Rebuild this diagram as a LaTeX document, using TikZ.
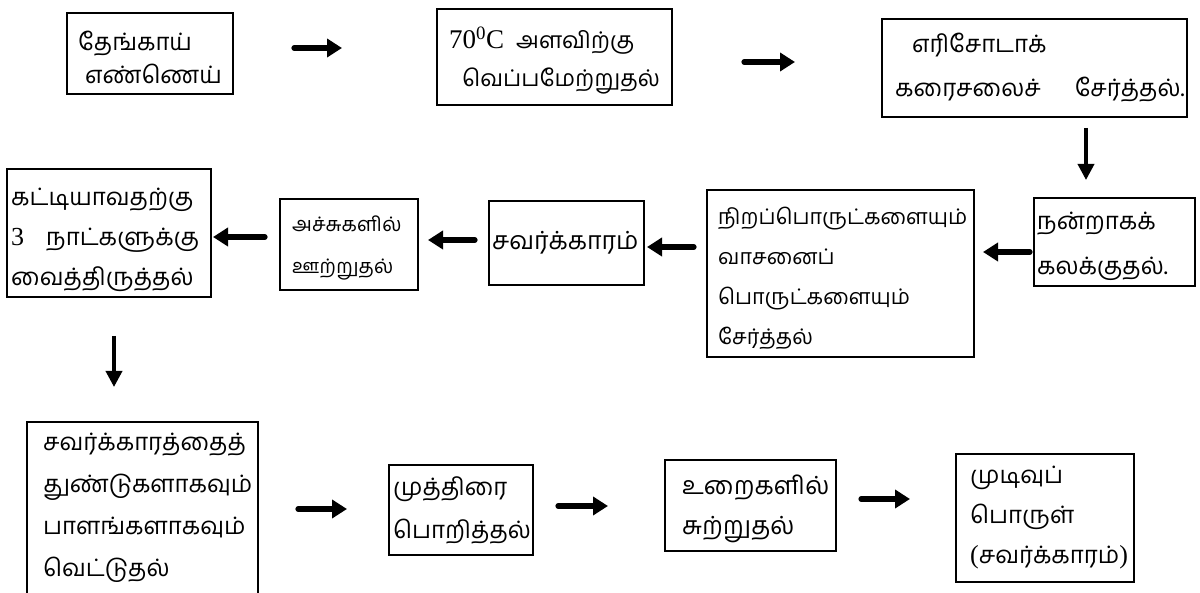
\documentclass[tikz,border=0pt]{standalone}
\usepackage{fontspec}
\setmainfont{Liberation Serif}
\newfontfamily\tamil[Script=Tamil]{Hind Madurai}
\usetikzlibrary{arrows.meta}
\tikzset{
  x=1pt, y=-1pt,
  box/.style={draw, line width=1.8pt, inner sep=0pt},
  txt/.style={anchor=west, align=left, inner sep=0pt, font=\tamil\fontsize{24}{40}\selectfont},
  harr/.style={line width=5.2pt, line cap=round, -{Triangle[length=15pt,width=18pt]}},
  varr/.style={line width=3.6pt, -{Triangle[length=16pt,width=16pt]}},
}
\newcommand{\lat}[1]{{\rmfamily\fontsize{26}{40}\selectfont #1}}
\begin{document}
\begin{tikzpicture}
\useasboundingbox (0,0) rectangle (1200,593);
% boxes
\node[box, minimum width=166pt, minimum height=81pt] (b1) at (150,53.5) {};
\node[box, minimum width=235pt, minimum height=96pt] (b2) at (554.5,57) {};
\node[box, minimum width=305pt, minimum height=98pt] (b3) at (1034.5,68) {};
\node[box, minimum width=161pt, minimum height=88pt] (b4) at (1114.5,242) {};
\node[box, minimum width=267pt, minimum height=167pt] (b5) at (840.5,273.5) {};
\node[box, minimum width=155pt, minimum height=84pt] (b6) at (566.5,243) {};
\node[box, minimum width=138pt, minimum height=91pt] (b7) at (349,244.5) {};
\node[box, minimum width=204pt, minimum height=128pt] (b8) at (109,233) {};
\node[box, minimum width=231pt, minimum height=172pt] (b9) at (142.5,508) {};
\node[box, minimum width=144pt, minimum height=90pt] (b10) at (461,510) {};
\node[box, minimum width=171pt, minimum height=91pt] (b11) at (750.5,505.5) {};
\node[box, minimum width=178pt, minimum height=128pt] (b12) at (1045,518) {};
% texts
\node[txt, font=\tamil\fontsize{24}{33}\selectfont] (t1) at (78,57) {தேங்காய்\\\hspace*{7pt}எண்ணெய்};
\node[txt, font=\tamil\fontsize{23}{38}\selectfont] (t2) at (449,61) {{\rmfamily\fontsize{27}{38}\selectfont 70\textsuperscript{0}C}\hspace{12pt}அளவிற்கு\\\hspace*{13pt}வெப்பமேற்றுதல்};
\node[txt, font=\tamil\fontsize{24}{44}\selectfont] (t3) at (895,68) {\hspace*{17pt}எரிசோடாக்\\கரைசலைச்\hspace{34pt}சேர்த்தல்.};
\node[txt, font=\tamil\fontsize{24}{45}\selectfont] (t4) at (1037,246) {நன்றாகக்\\கலக்குதல்.};
\node[txt, font=\tamil\fontsize{21.5}{40}\selectfont] (t5) at (718,278) {நிறப்பொருட்களையும்\\வாசனைப்\\பொருட்களையும்\\சேர்த்தல்};
\node[txt, font=\tamil\fontsize{25}{40}\selectfont] (t6) at (492,243) {சவர்க்காரம்};
\node[txt, font=\tamil\fontsize{20}{42}\selectfont] (t7) at (292,248) {அச்சுகளில்\\ஊற்றுதல்};
\node[txt] (t8) at (11,240) {கட்டியாவதற்கு\\\lat{3}\hspace{22pt}நாட்களுக்கு\\வைத்திருத்தல்};
\node[txt, font=\tamil\fontsize{24}{42}\selectfont] (t9) at (43,508) {சவர்க்காரத்தைத்\\துண்டுகளாகவும்\\பாளங்களாகவும்\\வெட்டுதல்};
\node[txt, font=\tamil\fontsize{24}{43}\selectfont] (t10) at (393,510) {முத்திரை\\பொறித்தல்};
\node[txt, font=\tamil\fontsize{25}{40}\selectfont] (t11) at (682,509) {உறைகளில்\\சுற்றுதல்};
\node[txt] (t12) at (970,518) {முடிவுப்\\பொருள்\\\lat{(}சவர்க்காரம்\lat{)}};
% arrow coordinates
\coordinate (a1s) at (294,48);  \coordinate (a1e) at (342,48);
\coordinate (a2s) at (744,62);  \coordinate (a2e) at (795,62);
\coordinate (a3s) at (1086,128); \coordinate (a3e) at (1086,180);
\coordinate (a4s) at (1030,252); \coordinate (a4e) at (983,252);
\coordinate (a5s) at (694,247); \coordinate (a5e) at (647,247);
\coordinate (a6s) at (475,240); \coordinate (a6e) at (428,240);
\coordinate (a7s) at (265,237); \coordinate (a7e) at (213,237);
\coordinate (a8s) at (114,336); \coordinate (a8e) at (114,387);
\coordinate (a9s) at (298,509); \coordinate (a9e) at (347,509);
\coordinate (a10s) at (558,506); \coordinate (a10e) at (608,506);
\coordinate (a11s) at (861,499); \coordinate (a11e) at (910,499);
\draw[harr] (a1s) -- (a1e);
\draw[harr] (a2s) -- (a2e);
\draw[varr] (a3s) -- (a3e);
\draw[harr] (a4s) -- (a4e);
\draw[harr] (a5s) -- (a5e);
\draw[harr] (a6s) -- (a6e);
\draw[harr] (a7s) -- (a7e);
\draw[varr] (a8s) -- (a8e);
\draw[harr] (a9s) -- (a9e);
\draw[harr] (a10s) -- (a10e);
\draw[harr] (a11s) -- (a11e);
\end{tikzpicture}
\end{document}
